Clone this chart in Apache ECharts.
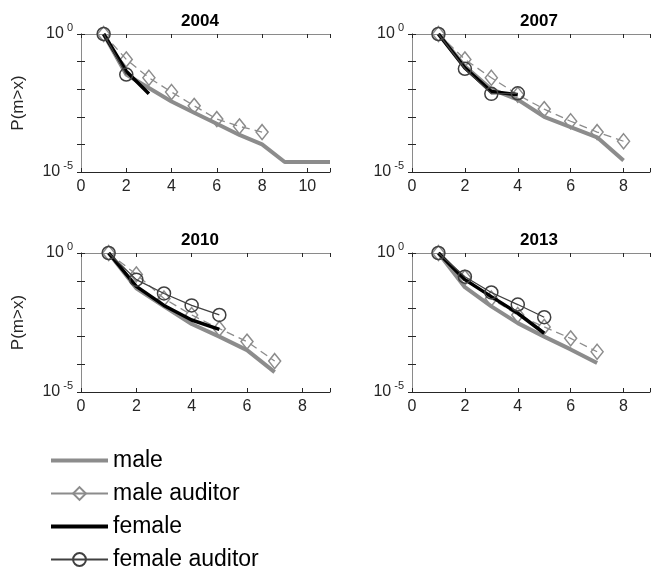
<!DOCTYPE html>
<html>
<head>
<meta charset="utf-8">
<script src="https://cdn.jsdelivr.net/npm/echarts@6/dist/echarts.min.js"></script>
<style>
  html, body { margin: 0; padding: 0; background: #fff; }
  #chart { width: 653px; height: 572px; }
</style>
</head>
<body>
<div id="chart"></div>
<script>
// panel titles and x-axis upper limits
const years = ["2004", "2007", "2010", "2013"];
const xMax = [11, 9, 9, 9];

// P(m>x), x = 1, 2, 3 ...
const male2004 = [1, 0.034, 0.011, 0.0036, 0.0014, 0.00056, 0.00022, 0.0001, 0.000023, 0.000023, 0.000023];
const maleAud2004 = [1, 0.12, 0.026, 0.0079, 0.0025, 0.00083, 0.00045, 0.00028];
const female2004 = [1, 0.045, 0.0068];
const femaleAud2004 = [1, 0.034];

const male2007 = [1, 0.068, 0.01, 0.0042, 0.001, 0.00042, 0.00018, 0.000026];
const maleAud2007 = [1, 0.12, 0.026, 0.0063, 0.0019, 0.00069, 0.00028, 0.00013];
const female2007 = [1, 0.059, 0.0083, 0.0063];
const femaleAud2007 = [1, 0.055, 0.0068, 0.0071];

const male2010 = [1, 0.054, 0.012, 0.0028, 0.00098, 0.00032, 0.000052];
const maleAud2010 = [1, 0.17, 0.023, 0.0059, 0.0019, 0.00065, 0.00013];
const female2010 = [1, 0.063, 0.013, 0.0039, 0.0018];
const femaleAud2010 = [1, 0.11, 0.035, 0.013, 0.0059];

const male2013 = [1, 0.059, 0.012, 0.003, 0.00098, 0.00034, 0.00011];
const maleAud2013 = [1, 0.13, 0.023, 0.0059, 0.0022, 0.00085, 0.00028];
const female2013 = [1, 0.11, 0.027, 0.0068, 0.0013];
const femaleAud2013 = [1, 0.14, 0.038, 0.014, 0.0049];

const panels = [
  [male2004, maleAud2004, female2004, femaleAud2004],
  [male2007, maleAud2007, female2007, femaleAud2007],
  [male2010, maleAud2010, female2010, femaleAud2010],
  [male2013, maleAud2013, female2013, femaleAud2013]
];

const font = "Liberation Sans, Arial, sans-serif";
const axisDark = "#262626";
const frameGray = "#8a8a8a";
const grayLine = "#8c8c8c";
const darkCircle = "#404040";

// legend icon for plain thick lines (no marker)
const thickLineIcon = "path://M0,0L0.01,0M0,6L57,6L57,10L0,10ZM0,16L0.01,16";

// grid boxes in pixels
const boxes = [
  { left: 81, top: 34, width: 249, height: 138 },
  { left: 412, top: 34, width: 246, height: 138 },
  { left: 81, top: 253, width: 249, height: 139 },
  { left: 412, top: 253, width: 246, height: 139 }
];

const toPairs = arr => arr.map((v, i) => [i + 1, v]);

const grid = [];
const xAxis = [];
const yAxis = [];
const series = [];
const title = [];

panels.forEach((p, k) => {
  const b = boxes[k];
  grid.push({ left: b.left, top: b.top, width: b.width, height: b.height });
  title.push({
    text: years[k],
    left: b.left + 124 - (k % 2 ? 2 : 10),
    top: b.top - 26,
    textAlign: "center",
    textStyle: { fontFamily: font, fontSize: 17, fontWeight: "bold", color: "#000" }
  });
  // bottom axis
  xAxis.push({
    type: "value", gridIndex: k, min: 0, max: xMax[k], interval: 2,
    axisLine: { lineStyle: { color: axisDark, width: 1 } },
    axisTick: { inside: true, length: 4, lineStyle: { color: axisDark } },
    axisLabel: {
      fontFamily: font, fontSize: 16, color: axisDark, margin: 7,
      formatter: v => (v % 2 === 0 ? String(v) : "")
    },
    splitLine: { show: false }
  });
  // top frame
  xAxis.push({
    type: "value", gridIndex: k, position: "top", min: 0, max: xMax[k], interval: 2,
    axisLine: { lineStyle: { color: frameGray, width: 1 } },
    axisTick: { inside: true, length: 4, lineStyle: { color: axisDark } },
    axisLabel: { show: false },
    splitLine: { show: false }
  });
  // left log axis
  yAxis.push({
    type: "log", gridIndex: k, logBase: 10, min: 0.00001, max: 1,
    name: k % 2 === 0 ? "P(m>x)" : "",
    nameLocation: "middle", nameGap: 54, nameRotate: 90,
    nameTextStyle: { fontFamily: font, fontSize: 17, color: axisDark },
    axisLine: { show: true, lineStyle: { color: axisDark, width: 1 } },
    axisTick: { inside: true, length: 4, lineStyle: { color: axisDark } },
    axisLabel: {
      fontFamily: font, color: axisDark, margin: 8,
      formatter: v => {
        if (Math.abs(v - 1) < 1e-9) return "{b|10}{s|0}";
        if (Math.abs(v - 0.00001) < 1e-12) return "{b|10}{s|-5}";
        return "";
      },
      rich: {
        b: { fontFamily: font, fontSize: 16, color: axisDark },
        s: { fontFamily: font, fontSize: 11, color: axisDark, padding: [0, 0, 12, 3] }
      }
    },
    splitLine: { show: false }
  });
  // right frame
  yAxis.push({
    type: "log", gridIndex: k, logBase: 10, min: 0.00001, max: 1, position: "right",
    axisLine: { show: true, lineStyle: { color: frameGray, width: 1 } },
    axisTick: { inside: true, length: 4, lineStyle: { color: axisDark } },
    axisLabel: { show: false },
    splitLine: { show: false }
  });

  const xi = k * 2;
  const yi = k * 2;
  series.push({
    name: "male", type: "line", xAxisIndex: xi, yAxisIndex: yi,
    data: toPairs(p[0]), symbol: "none", color: grayLine,
    lineStyle: { color: grayLine, width: 4 }, z: 2
  });
  series.push({
    name: "male auditor", type: "line", xAxisIndex: xi, yAxisIndex: yi,
    data: toPairs(p[1]), symbol: "diamond", symbolSize: [12, 15],
    itemStyle: { color: "rgba(255,255,255,0)", borderColor: grayLine, borderWidth: 1.5 },
    lineStyle: { color: grayLine, width: 1.3, type: [8, 5] }, z: 3
  });
  series.push({
    name: "female", type: "line", xAxisIndex: xi, yAxisIndex: yi,
    data: toPairs(p[2]), symbol: "none", color: "#000",
    lineStyle: { color: "#000", width: 3.5 }, z: 4
  });
  series.push({
    name: "female auditor", type: "line", xAxisIndex: xi, yAxisIndex: yi,
    data: toPairs(p[3]), symbol: "circle", symbolSize: 13,
    itemStyle: { color: "rgba(255,255,255,0)", borderColor: darkCircle, borderWidth: 1.5 },
    lineStyle: { color: darkCircle, width: 1.3 }, z: 5
  });
});

const option = {
  animation: false,
  backgroundColor: "#fff",
  title: title,
  legend: {
    orient: "vertical", left: 50, top: 449, padding: 0,
    itemWidth: 57, itemHeight: 16, itemGap: 10,
    data: [
      { name: "male", icon: thickLineIcon, itemStyle: { color: grayLine } },
      { name: "male auditor", lineStyle: { type: "solid" } },
      { name: "female", icon: thickLineIcon, itemStyle: { color: "#000" } },
      { name: "female auditor" }
    ],
    textStyle: { fontFamily: font, fontSize: 23, lineHeight: 23, color: "#000" }
  },
  grid: grid,
  xAxis: xAxis,
  yAxis: yAxis,
  series: series
};

const myChart = echarts.init(document.getElementById("chart"));
myChart.setOption(option);
</script>
</body>
</html>
